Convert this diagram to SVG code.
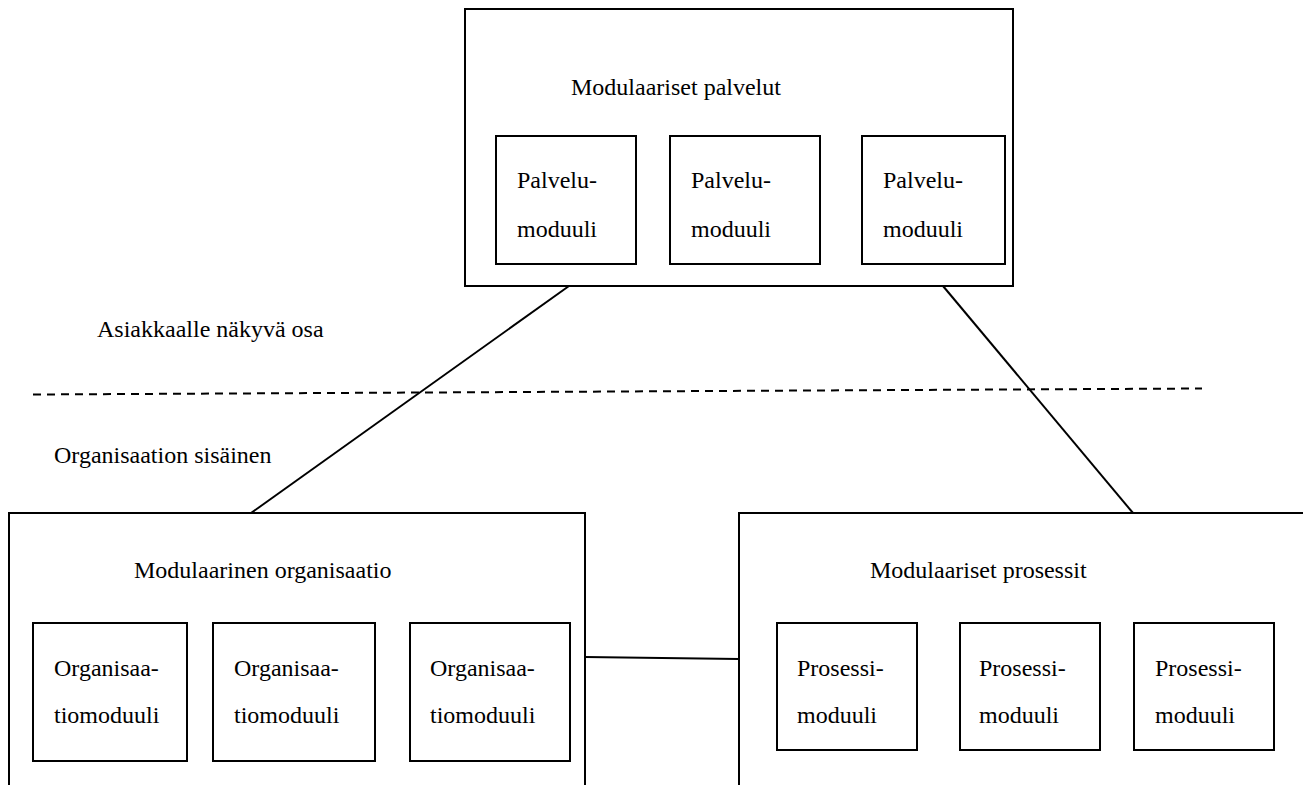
<svg xmlns="http://www.w3.org/2000/svg" width="1303" height="785" viewBox="0 0 1303 785">
<style>
  .box { fill: #fff; stroke: #000; stroke-width: 2; }
  .conn { stroke: #000; stroke-width: 2; fill: none; }
  .dash { stroke: #000; stroke-width: 2; stroke-dasharray: 8 6; fill: none; }
  text { font-family: 'Liberation Serif', 'Times New Roman', Tinos, 'DejaVu Serif', serif; font-size: 24px; fill: #000; }
</style>
<rect x="0" y="0" width="1303" height="785" fill="#fff"/>
<g id="connectors">
  <line class="conn" x1="569" y1="286" x2="251" y2="513"/>
  <line class="conn" x1="943" y1="286" x2="1133" y2="513"/>
  <line class="conn" x1="585" y1="657" x2="739" y2="659"/>
  <line class="dash" x1="33" y1="394.5" x2="1202" y2="388.5"/>
</g>
<g id="palvelut">
  <rect class="box" x="465" y="9" width="548" height="277"/>
  <text x="571" y="95">Modulaariset palvelut</text>
</g>
<g id="palvelu1">
  <rect class="box" x="496" y="136" width="140" height="128"/>
  <text x="517" y="188">Palvelu-</text>
  <text x="517" y="237">moduuli</text>
</g>
<g id="palvelu2">
  <rect class="box" x="670" y="136" width="150" height="128"/>
  <text x="691" y="188">Palvelu-</text>
  <text x="691" y="237">moduuli</text>
</g>
<g id="palvelu3">
  <rect class="box" x="862" y="136" width="143" height="128"/>
  <text x="883" y="188">Palvelu-</text>
  <text x="883" y="237">moduuli</text>
</g>
<g id="label-asiakas">
  <text x="97" y="337">Asiakkaalle näkyvä osa</text>
</g>
<g id="label-sisainen">
  <text x="54" y="463">Organisaation sisäinen</text>
</g>
<g id="organisaatio">
  <rect class="box" x="9" y="513" width="576" height="300"/>
  <text x="134" y="578">Modulaarinen organisaatio</text>
</g>
<g id="org1">
  <rect class="box" x="33" y="623" width="154" height="138"/>
  <text x="54" y="676">Organisaa-</text>
  <text x="54" y="723">tiomoduuli</text>
</g>
<g id="org2">
  <rect class="box" x="213" y="623" width="162" height="138"/>
  <text x="234" y="676">Organisaa-</text>
  <text x="234" y="723">tiomoduuli</text>
</g>
<g id="org3">
  <rect class="box" x="410" y="623" width="160" height="138"/>
  <text x="430" y="676">Organisaa-</text>
  <text x="430" y="723">tiomoduuli</text>
</g>
<g id="prosessit">
  <rect class="box" x="739" y="513" width="600" height="300"/>
  <text x="870" y="578">Modulaariset prosessit</text>
</g>
<g id="pros1">
  <rect class="box" x="777" y="623" width="140" height="127"/>
  <text x="797" y="676">Prosessi-</text>
  <text x="797" y="723">moduuli</text>
</g>
<g id="pros2">
  <rect class="box" x="960" y="623" width="140" height="127"/>
  <text x="979" y="676">Prosessi-</text>
  <text x="979" y="723">moduuli</text>
</g>
<g id="pros3">
  <rect class="box" x="1134" y="623" width="140" height="127"/>
  <text x="1155" y="676">Prosessi-</text>
  <text x="1155" y="723">moduuli</text>
</g>
</svg>
